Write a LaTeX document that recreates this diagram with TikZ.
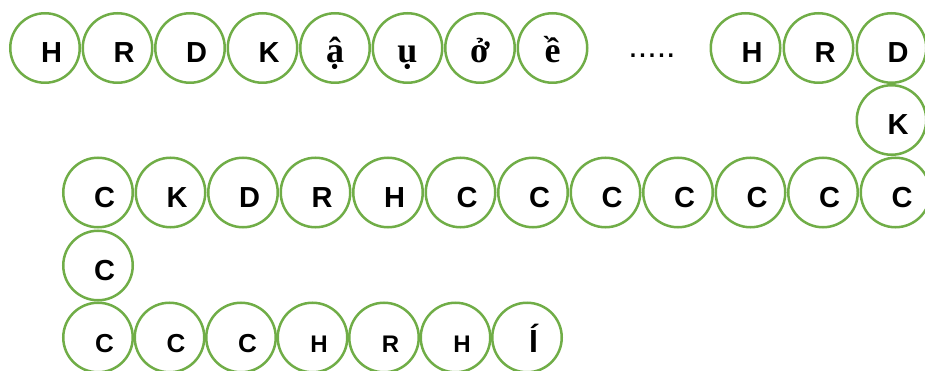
\documentclass[tikz,border=0pt]{standalone}
\usepackage{fontspec}
\usepackage[dvipsnames,svgnames]{xcolor}
\usepackage{tikz}
\usetikzlibrary{positioning}
\newfontfamily\arialfont{Liberation Sans}
\newfontfamily\timesfont{Liberation Serif}
\definecolor{ringgreen}{HTML}{70AD47}
\newcommand\sanslabel[1]{\arialfont\bfseries\fontsize{#1}{#1}\selectfont\hspace*{13pt}}

\begin{document}
\begin{tikzpicture}[
  x=1pt, y=-1pt,
  every node/.style={circle, draw=ringgreen, line width=2.5pt, minimum size=69.5pt, inner sep=0pt, text height=30pt, text depth=0pt, font=\sanslabel{29}},
  viet/.style={font=\timesfont\bfseries\fontsize{36}{36}\selectfont},
  lowrow/.style={font=\sanslabel{24}},
  lowc/.style={font=\sanslabel{26}},
  gapdots/.style={rectangle, draw=none, minimum size=0pt, text height=4pt, font=\arialfont\fontsize{34}{34}\selectfont}
]
\useasboundingbox (0,0) rectangle (925,371);

\node (h1) at (45,48) {H};
\node (r1) [right=0.5pt of h1] {R};
\node (d1) [right=0.5pt of r1] {D};
\node (k1) [right=0.5pt of d1] {K};
\node (a1) [viet, right=0.5pt of k1] {ậ};
\node (u1) [viet, right=0.5pt of a1] {ụ};
\node (o1) [viet, right=0.5pt of u1] {ở};
\node (e1) [viet, right=0.5pt of o1] {ề};
\node (gap) [gapdots] at (652,56) {.....};
\node (h2) at (745.5,48) {H};
\node (r2) [right=1pt of h2] {R};
\node (d2) [right=1pt of r2] {D};
\node (k2) [below=0pt of d2] {K};

\node (c1) at (98,192.5) {C};
\node (k3) [right=0.5pt of c1] {K};
\node (d3) [right=0.5pt of k3] {D};
\node (r3) [right=0.5pt of d3] {R};
\node (h3) [right=0.5pt of r3] {H};
\node (c2) [right=0.5pt of h3] {C};
\node (c3) [right=0.5pt of c2] {C};
\node (c4) [right=0.5pt of c3] {C};
\node (c5) [right=0.5pt of c4] {C};
\node (c6) [right=0.5pt of c5] {C};
\node (c7) [right=0.5pt of c6] {C};
\node (c8) [right=0.5pt of c7] {C};

\node (c9) [below=1pt of c1] {C};

\node (c10) [lowc, below=0pt of c9] {C};
\node (c11) [lowc, right=-0.5pt of c10] {C};
\node (c12) [lowc, right=-0.5pt of c11] {C};
\node (h4) [lowrow, right=-0.5pt of c12] {H};
\node (r4) [lowrow, right=-0.5pt of h4] {R};
\node (h5) [lowrow, right=-0.5pt of r4] {H};
\node (i1) [font=\sanslabel{32}, right=-0.5pt of h5] {Í};
\end{tikzpicture}
\end{document}
